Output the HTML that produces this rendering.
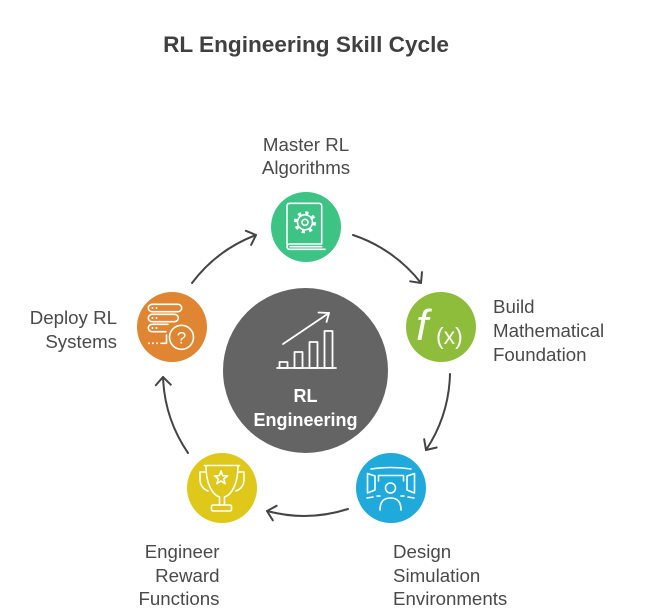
<!DOCTYPE html>
<html>
<head>
<meta charset="utf-8">
<style>
  html,body{margin:0;padding:0;background:#fff;}
  svg{display:block;}
  text{font-family:"Liberation Sans",Arial,sans-serif;}
</style>
</head>
<body>
<svg width="648" height="615" viewBox="0 0 648 615" xmlns="http://www.w3.org/2000/svg">
  <defs>
    <marker id="ah" viewBox="-12 -10 20 20" markerWidth="20" markerHeight="20" refX="0" refY="0" orient="auto" markerUnits="userSpaceOnUse">
      <path d="M-8,-7.5 L0,0 L-8,7.5" fill="none" stroke="#444" stroke-width="2" stroke-linecap="round" stroke-linejoin="round"/>
    </marker>
  </defs>

  <!-- Title -->
  <text x="306" y="52" text-anchor="middle" font-size="22.6" font-weight="bold" fill="#404040">RL Engineering Skill Cycle</text>

  <!-- Arrows -->
  <g fill="none" stroke="#444" stroke-width="2" stroke-linecap="round" marker-end="url(#ah)">
    <path d="M353,235 A144,144 0 0 1 421,283"/>
    <path d="M450,374 A144,144 0 0 1 426,450"/>
    <path d="M348,509 A144,144 0 0 1 267,511"/>
    <path d="M188,453 A144,144 0 0 1 163,377"/>
    <path d="M192,283 A144,144 0 0 1 256,235"/>
  </g>

  <!-- Center circle -->
  <circle cx="305.5" cy="370.5" r="82.5" fill="#646464"/>
  <g fill="none" stroke="#fff" stroke-width="1.8" stroke-linecap="round" stroke-linejoin="round">
    <line x1="283" y1="344" x2="329" y2="313"/>
    <polyline points="318.5,312.5 329,313 326.5,322"/>
    <rect x="279.5" y="362" width="8" height="6"/>
    <rect x="294.5" y="352" width="8" height="16"/>
    <rect x="309.5" y="342" width="8" height="26"/>
    <rect x="324.5" y="331" width="8" height="37"/>
    <line x1="277" y1="368" x2="336" y2="368"/>
  </g>
  <text x="305.5" y="402" text-anchor="middle" font-size="18" font-weight="bold" fill="#fff">RL</text>
  <text x="305.5" y="426" text-anchor="middle" font-size="18" font-weight="bold" fill="#fff">Engineering</text>

  <!-- Green: Master RL Algorithms -->
  <circle cx="306" cy="227" r="35" fill="#3DC384"/>
  <g fill="none" stroke="#fff" stroke-width="1.6" stroke-linecap="round" stroke-linejoin="round">
    <path d="M287,244 V206 Q287,203.3 290,203.3 H319 Q321.7,203.3 321.7,206 V244 H290 Q287,244 287,246.7 Q287,249.3 290,249.3 H325"/>
    <line x1="290" y1="246.7" x2="321.7" y2="246.7"/>
  </g>
  <circle cx="305" cy="222.3" r="9.5" fill="none" stroke="#fff" stroke-width="3.2" stroke-dasharray="3.2 4.26"/>
  <circle cx="305" cy="222.3" r="6.7" fill="#3DC384"/>
  <circle cx="305" cy="222.3" r="7.5" fill="none" stroke="#fff" stroke-width="1.6"/>
  <circle cx="305" cy="222.3" r="3" fill="none" stroke="#fff" stroke-width="1.6"/>

  <!-- Lime: Build Mathematical Foundation -->
  <circle cx="441" cy="327" r="35" fill="#8EBD3B"/>
  <text x="416" y="340" font-family="Liberation Serif, serif" font-style="italic" font-size="44" fill="#fff">f</text>
  <text x="436" y="344" font-size="23" fill="#fff">(x)</text>

  <!-- Blue: Design Simulation Environments -->
  <circle cx="391" cy="488" r="35" fill="#1FAADB"/>
  <g fill="none" stroke="#fff" stroke-width="1.6" stroke-linecap="round" stroke-linejoin="round">
    <path d="M371,469 Q391,466 411,469"/>
    <path d="M367.5,473.5 L375,476 L375,490 L367.5,493 Z"/>
    <path d="M414.5,473.5 L407,476 L407,490 L414.5,493 Z"/>
    <path d="M378.5,481 V475.5 H403.5 V481"/>
    <circle cx="390.5" cy="488" r="5"/>
    <path d="M380,510 Q380,498 390.5,498 Q401,498 401,510"/>
    <path d="M367,498 L373,497 M377,496 L380,496 M401,496 L404,496 M408,497 L414,498"/>
  </g>

  <!-- Yellow: Engineer Reward Functions -->
  <circle cx="222" cy="488" r="35" fill="#DFC81A"/>
  <g fill="none" stroke="#fff" stroke-width="1.6" stroke-linecap="round" stroke-linejoin="round">
    <path d="M204.5,465.5 H239.5"/>
    <path d="M206,466 C206,485 213,495 219.5,497 V505 M238,466 C238,485 231,495 224.5,497 V505"/>
    <rect x="211.5" y="505" width="20" height="6" rx="1.5"/>
    <path d="M206,472 H200 V479 C200,485 203,489 208,491"/>
    <path d="M238,472 H244 V479 C244,485 241,489 236,491"/>
    <path d="M221,471 L222.7,475.65 L227.66,475.84 L223.76,478.9 L225.11,483.66 L221,480.9 L216.89,483.66 L218.24,478.9 L214.34,475.84 L219.3,475.65 Z"/>
  </g>

  <!-- Orange: Deploy RL Systems -->
  <circle cx="172" cy="327" r="35" fill="#E08531"/>
  <g fill="none" stroke="#fff" stroke-width="1.6" stroke-linecap="round" stroke-linejoin="round">
    <rect x="148.3" y="304.3" width="33.4" height="7.4" rx="3.7"/>
    <rect x="148.3" y="314.3" width="30" height="7.4" rx="3.7"/>
    <path d="M168,324.3 H152 A3.7,3.7 0 0 0 152,331.7 H166"/>
    <path d="M161,343.3 H166.5 V335"/>
    <circle cx="181.5" cy="337.3" r="12"/>
  </g>
  <g fill="#fff">
    <circle cx="152.5" cy="308" r="1"/><circle cx="156.5" cy="308" r="1"/>
    <circle cx="152.5" cy="318" r="1"/><circle cx="156.5" cy="318" r="1"/>
    <circle cx="152.5" cy="328" r="1"/><circle cx="156.5" cy="328" r="1"/>
    <circle cx="149" cy="343.3" r="1"/><circle cx="153" cy="343.3" r="1"/><circle cx="157" cy="343.3" r="1"/>
  </g>
  <text x="181.5" y="343.5" text-anchor="middle" font-size="17" fill="#fff">?</text>

  <!-- Labels -->
  <g font-size="18.7" fill="#4a4a4a">
    <text x="306" y="151" text-anchor="middle">Master RL</text>
    <text x="306" y="174" text-anchor="middle">Algorithms</text>

    <text x="493" y="313">Build</text>
    <text x="493" y="337">Mathematical</text>
    <text x="493" y="361">Foundation</text>

    <text x="117" y="324" text-anchor="end">Deploy RL</text>
    <text x="117" y="348" text-anchor="end">Systems</text>

    <text x="219.5" y="558" text-anchor="end">Engineer</text>
    <text x="219.5" y="582" text-anchor="end">Reward</text>
    <text x="219.5" y="605" text-anchor="end">Functions</text>

    <text x="393" y="558">Design</text>
    <text x="393" y="582">Simulation</text>
    <text x="393" y="605">Environments</text>
  </g>
</svg>
</body>
</html>
